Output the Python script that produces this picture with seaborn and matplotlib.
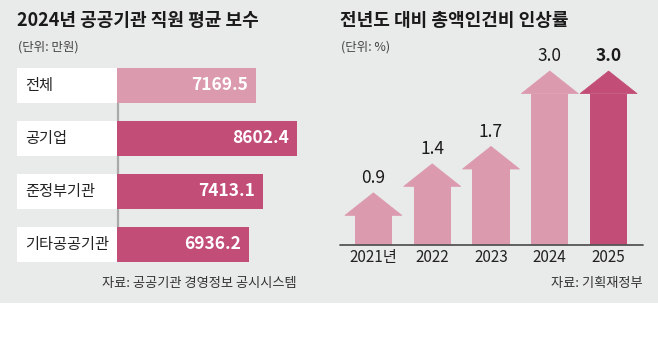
import matplotlib
matplotlib.use("Agg")
import matplotlib.pyplot as plt
import matplotlib.transforms as mtransforms
from matplotlib.patches import Rectangle, Polygon
import seaborn as sns
import pandas as pd

# ---- data ----
orgs = ["전체", "공기업", "준정부기관", "기타공공기관"]
salary = [7169.5, 8602.4, 7413.1, 6936.2]
years = ["2021년", "2022", "2023", "2024", "2025"]
raise_rate = [0.9, 1.4, 1.7, 3.0, 3.0]
rate_labels = ["0.9", "1.4", "1.7", "3.0", "3.0"]

LIGHT = "#dc9aae"
DARK = "#c24d76"
BG = "#e9ebea"

sns.set_theme(style="white")
plt.rcParams["font.family"] = ["Noto Sans CJK KR", "DejaVu Sans"]

W, H = 658, 339
fig = plt.figure(figsize=(W / 100, H / 100), dpi=100)
fig.patch.set_facecolor("white")
fig.patches.append(Rectangle((0, (H - 303) / H), 1, 303 / H, transform=fig.transFigure,
                             facecolor=BG, edgecolor="none", zorder=-10))


def rect(l, t, r, b):
    return [l / W, 1 - b / H, (r - l) / W, (b - t) / H]


def ftext(x, y, s, **kw):
    fig.text(x / W, 1 - y / H, s, **kw)


# ---- left chart ----
ax1 = fig.add_axes(rect(17, 59, 320, 270.5))
ax1.set_facecolor("none")
df1 = pd.DataFrame({"org": orgs, "salary": salary})
sns.barplot(data=df1, x="salary", y="org", hue="org", orient="h",
            palette=[LIGHT, DARK, DARK, DARK], width=0.66, legend=False,
            saturation=1, ax=ax1, zorder=2, edgecolor="none", linewidth=0)
ax1.set_xlim(-1188, 9402)
ax1.set_ylim(3.5, -0.5)
blend = mtransforms.blended_transform_factory(ax1.transAxes, ax1.transData)
ax1.plot([0.333, 0.333], [0, 3], transform=blend, color="#a9a9a9", lw=1.6, zorder=1)
for i, (o, v) in enumerate(zip(orgs, salary)):
    ax1.add_patch(Rectangle((0, i - 0.33), 0.33, 0.66, transform=blend,
                            facecolor="white", edgecolor="none", zorder=3))
    ax1.text(0.026, i, o, transform=blend, ha="left", va="center",
             fontsize=11, color="#222222", zorder=4)
    ax1.annotate(f"{v:.1f}", (v, i), xytext=(-6, 0), textcoords="offset points",
                 ha="right", va="center", fontsize=12.5, fontweight="bold",
                 color="white", zorder=4)
ax1.set_xticks([])
ax1.set_yticks([])
ax1.set_xlabel("")
ax1.set_ylabel("")
for s in ax1.spines.values():
    s.set_visible(False)

# ---- right chart ----
HEAD = 0.39
ax2 = fig.add_axes(rect(344, 60, 638, 245))
ax2.set_facecolor("none")
df2 = pd.DataFrame({"year": years, "shaft": [v - HEAD for v in raise_rate]})
pal2 = [LIGHT] * 4 + [DARK]
sns.barplot(data=df2, x="year", y="shaft", hue="year", palette=pal2, width=0.63,
            legend=False, saturation=1, ax=ax2, zorder=2, edgecolor="none", linewidth=0)
for i, v in enumerate(raise_rate):
    ax2.add_patch(Polygon([(i - 0.485, v - HEAD), (i + 0.485, v - HEAD), (i, v)],
                          closed=True, facecolor=pal2[i], edgecolor=pal2[i],
                          linewidth=0.5, zorder=2))
    ax2.annotate(rate_labels[i], (i, v), xytext=(0, 4), textcoords="offset points",
                 ha="center", va="bottom", fontsize=12.5,
                 fontweight="bold" if i == len(raise_rate) - 1 else "normal",
                 color="#1a1a1a")
ax2.set_xlim(-0.5, 4.5)
ax2.set_ylim(0, 185 / 58)
ax2.plot([-0.57, 4.59], [0, 0], color="#555555", lw=1.3, clip_on=False, zorder=3)
ax2.set_yticks([])
ax2.tick_params(axis="x", length=0, pad=3, labelsize=11, labelcolor="#222222")
ax2.set_xlabel("")
ax2.set_ylabel("")
for s in ax2.spines.values():
    s.set_visible(False)

# ---- titles / notes ----
ftext(17, 20, "2024년 공공기관 직원 평균 보수", fontsize=13, fontweight="bold",
      color="#1a1a1a", ha="left", va="center")
ftext(18, 47, "(단위: 만원)", fontsize=9, color="#444444", ha="left", va="center")
ftext(297, 283, "자료: 공공기관 경영정보 공시시스템", fontsize=9.5, color="#333333",
      ha="right", va="center")

ftext(340, 20, "전년도 대비 총액인건비 인상률", fontsize=13, fontweight="bold",
      color="#1a1a1a", ha="left", va="center")
ftext(341, 47, "(단위: %)", fontsize=9, color="#444444", ha="left", va="center")
ftext(643, 283, "자료: 기획재정부", fontsize=9.5, color="#333333", ha="right", va="center")

fig.savefig("out.png", dpi=100, facecolor=fig.get_facecolor())
